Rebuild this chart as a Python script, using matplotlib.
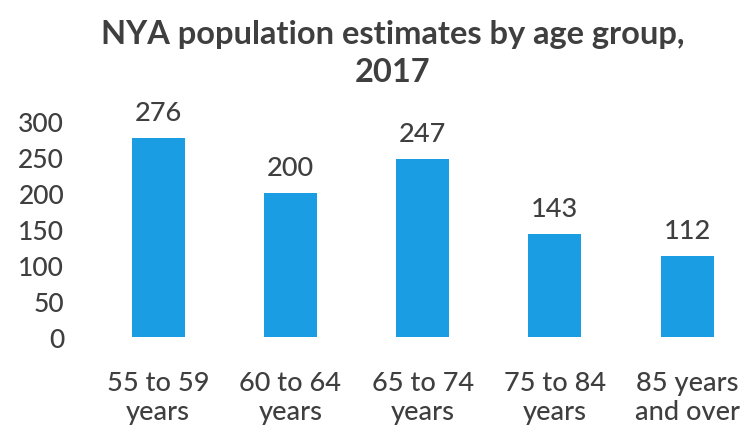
import matplotlib
matplotlib.use("Agg")
import matplotlib.pyplot as plt

categories = ["55 to 59\nyears", "60 to 64\nyears", "65 to 74\nyears", "75 to 84\nyears", "85 years\nand over"]
values = [276, 200, 247, 143, 112]
yticks = [0, 50, 100, 150, 200, 250, 300]
title = "NYA population estimates by age group,\n2017"

plt.rcParams['font.family'] = ['Lato', 'DejaVu Sans']
txt = "#3f3f3f"

fig = plt.figure(figsize=(7.48, 4.35), dpi=100)
ax = fig.add_axes([0.123, 0.223, 0.877, 0.497])
x = list(range(len(categories)))
ax.bar(x, values, width=0.4, color="#1a9de3")
for xi, v in zip(x, values):
    ax.text(xi, v + 18, str(v), ha="center", va="bottom", fontsize=19.5, color=txt,
            fontweight="medium")
ax.set_ylim(0, 300)
ax.set_xlim(-0.5, 4.46)
ax.set_yticks(yticks)
ax.set_yticklabels([str(t) for t in yticks], fontsize=19, color=txt, fontweight="medium")
ax.set_xticks(x)
ax.set_xticklabels(categories, fontsize=19.5, color=txt, linespacing=1.18, fontweight="medium")
ax.tick_params(length=0, axis="y", pad=20)
ax.tick_params(length=0, axis="x", pad=24)
for s in ax.spines.values():
    s.set_visible(False)
fig.text(0.525, 0.955, title, ha="center", va="top", fontsize=23.5, fontweight="bold",
         color=txt, linespacing=1.4)
fig.savefig("out.png", dpi=100)
